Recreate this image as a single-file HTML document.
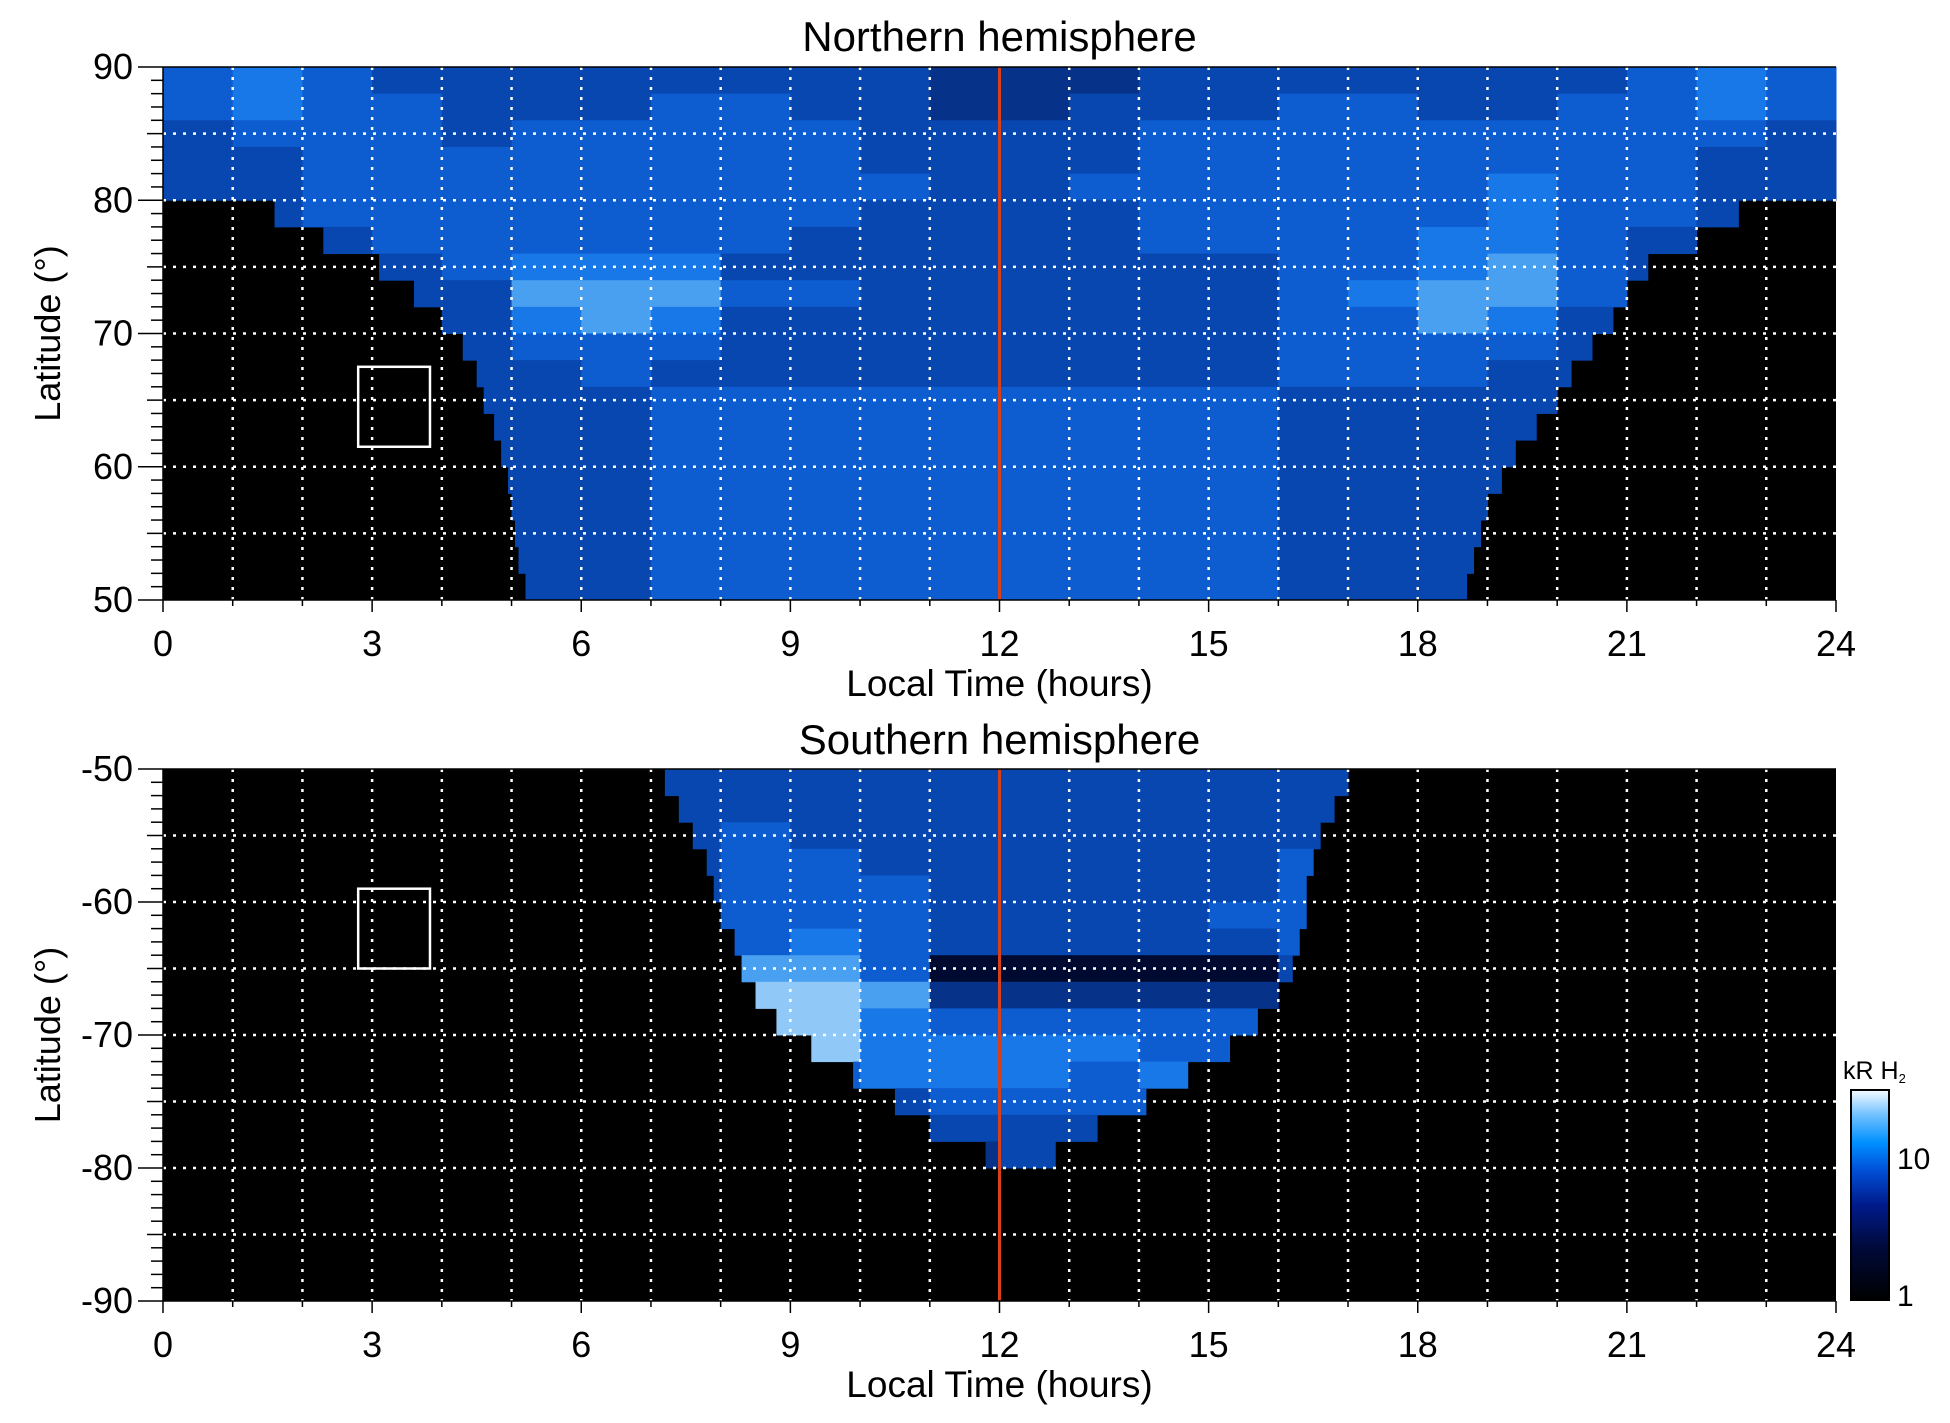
<!DOCTYPE html>
<html><head><meta charset="utf-8"><style>
html,body{margin:0;padding:0;background:#fff;}
svg{display:block;font-family:"Liberation Sans",Arial,sans-serif;}
</style></head><body>
<svg id="chart" width="1950" height="1423" viewBox="0 0 1950 1423" xmlns="http://www.w3.org/2000/svg">
<defs>
<linearGradient id="cbar" x1="0" y1="1" x2="0" y2="0">
<stop offset="0" stop-color="#000000"/><stop offset="0.25" stop-color="#000a3a"/>
<stop offset="0.45" stop-color="#001a8a"/><stop offset="0.62" stop-color="#0050d8"/>
<stop offset="0.75" stop-color="#0090ff"/><stop offset="0.88" stop-color="#70c0ff"/>
<stop offset="1" stop-color="#f4faff"/></linearGradient>
</defs>
<g id="root"></g>
</svg>
<script>
// ---- data ----
const hours = [0,3,6,9,12,15,18,21,24];
const northTicks = [90,80,70,60,50];
const southTicks = [-50,-60,-70,-80,-90];
const palette = ["#000000","#000a30","#001a70","#06328a","#0846b0","#0d5cd0","#1878e8","#4aa0f0","#90c8f8","#e8f4ff"];
// rows of 2 degrees from pole/edge, 24 hourly columns, intensity 0-9
const northRows = [
"565444444443334444444565","565544455443344455445565","455545555544445555555554",
"445555555544445555555544","445555555554455555565544","445555555544445555565544",
"444555555444445555665444","444456664444444455675444","444447775544444456775444",
"444446764444444455764444","444445554444444455554444","444444544444444455544444",
"444444455555555544444444","444444455555555544444444","444444455555555544444444",
"444444455555555544444444","444444455555555544444444","444444455555555544444444",
"444444455555555544444444","444444455555555544444444"];
const northLeft  = [0,0,0,0,0,1.6,2.3,3.1,3.6,4.0,4.3,4.5,4.6,4.75,4.85,4.95,5.0,5.05,5.1,5.2];
const northRight = [24,24,24,24,24,22.6,22,21.3,21,20.8,20.5,20.2,20,19.7,19.4,19.2,19.0,18.9,18.8,18.7];
const southRows = [
"000000044444444444000000","000000044444444444000000","000000045444444444000000",
"000000045544444455000000","000000045554444455000000","000000045554444555000000",
"000000005654444455000000","000000007751111145000000","000000008873333366000000",
"000000008865555566000000","000000006866665566000000","000000000566656550000000",
"000000000045555500000000","000000000034444000000000","000000000003440000000000",
"000000000000000000000000","000000000000000000000000","000000000000000000000000",
"000000000000000000000000","000000000000000000000000"];
const southLeft  = [7.2,7.4,7.6,7.8,7.9,8.0,8.2,8.3,8.5,8.8,9.3,9.9,10.5,11.0,11.8,0,0,0,0,0];
const southRight = [17,16.8,16.6,16.5,16.4,16.4,16.3,16.2,16.0,15.7,15.3,14.7,14.1,13.4,12.8,0,0,0,0,0];
const northBox = [2.8,3.83,67.5,61.5];
const southBox = [2.8,3.83,-59.0,-65.0];
const markerHour = 12;

// ---- drawing ----
const NS="http://www.w3.org/2000/svg";
const root=document.getElementById('root');
function mk(tag,attrs,parent){const e=document.createElementNS(NS,tag);for(const k in attrs)e.setAttribute(k,attrs[k]);(parent||root).appendChild(e);return e;}
const X0=163,X1=1836;
const xs=h=>X0+(X1-X0)*h/24;

function panel(name,top,bot,latTop,latBot,rows,L,R,ticks,box,title,titleY){
  const ys=l=>top+(bot-top)*(latTop-l)/(latTop-latBot);
  const g=mk('g',{});
  
  
  const bg=mk('rect',{x:X0,y:top,width:X1-X0,height:bot-top,fill:'#000'},g);
  
  
  const step=(latTop-latBot)/rows.length;
  rows.forEach((row,ri)=>{
    const la=latTop-ri*step, lb=la-step;
    for(let c=0;c<24;c++){
      const v=+row[c]; if(!v) continue;
      const a=Math.max(c,L[ri]), b=Math.min(c+1,R[ri]); if(b<=a) continue;
      const r=mk('rect',{x:xs(a),y:ys(la),width:xs(b)-xs(a)+0.5,height:ys(lb)-ys(la)+0.5,fill:palette[v]},g);
      
      
    }
  });
  for(let h=1;h<24;h++){
    const l=mk('line',{x1:xs(h),x2:xs(h),y1:top,y2:bot,stroke:'#fff','stroke-width':2.5,'stroke-dasharray':'3 7'},g);
    
    
  }
  for(let la=latTop;la>=latBot;la-=5){
    if(la===latTop||la===latBot) continue;
    const l=mk('line',{x1:X0,x2:X1,y1:ys(la),y2:ys(la),stroke:'#fff','stroke-width':2.5,'stroke-dasharray':'3 7'},g);
    
    
  }
  const bx=mk('rect',{x:xs(box[0]),y:ys(box[2]),width:xs(box[1])-xs(box[0]),height:ys(box[3])-ys(box[2]),fill:'none',stroke:'#fff','stroke-width':2.5},g);
  
  
  const nl=mk('line',{x1:xs(markerHour),x2:xs(markerHour),y1:top,y2:bot,stroke:'#d8401a','stroke-width':3},g);
  
  
  mk('line',{x1:X0,x2:X1,y1:bot,y2:bot,stroke:'#000','stroke-width':1.5},g);
  mk('line',{x1:X0,x2:X0,y1:top,y2:bot,stroke:'#000','stroke-width':1.5},g);
  mk('line',{x1:X0,x2:X1,y1:top,y2:top,stroke:'#000','stroke-width':1.5},g);
  for(let la=latTop;Math.sign(latTop-latBot)*(la-latBot)>=0;la-=1){
    const len=(la%10===0)?25:(la%5===0?16:12);
    mk('line',{x1:X0-len,x2:X0,y1:ys(la),y2:ys(la),stroke:'#000','stroke-width':1.5},g);
  }
  for(let h=0;h<=24;h++){
    mk('line',{x1:xs(h),x2:xs(h),y1:bot,y2:bot+(h%3===0?12:6),stroke:'#000','stroke-width':1.5},g);
  }
  ticks.forEach(t=>{
    const tx=mk('text',{x:X0-30,y:ys(t)+12,'text-anchor':'end','font-size':36},g);
    tx.textContent=t;
    
    
  });
  hours.forEach(h=>{
    const tx=mk('text',{x:xs(h),y:bot+56,'text-anchor':'middle','font-size':36},g);
    tx.textContent=h;
    
    
  });
  const xt=mk('text',{x:(X0+X1)/2,y:bot+96,'text-anchor':'middle','font-size':37},g);
  xt.textContent='Local Time (hours)';
  
  
  const yt=mk('text',{x:0,y:0,'text-anchor':'middle','font-size':36,transform:`translate(60,${(top+bot)/2}) rotate(-90)`},g);
  yt.textContent='Latitude (°)';
  
  
  const tt=mk('text',{x:(X0+X1)/2,y:titleY,'text-anchor':'middle','font-size':42},g);
  tt.textContent=title;
  
  
}
panel('north',67,600,90,50,northRows,northLeft,northRight,northTicks,northBox,'Northern hemisphere',51);
panel('south',769,1301,-50,-90,southRows,southLeft,southRight,southTicks,southBox,'Southern hemisphere',754);

const cb=mk('rect',{x:1851,y:1090,width:38,height:210,fill:'url(#cbar)',stroke:'#000','stroke-width':2});


const cbl=[["10",1169],["1",1306]];
cbl.forEach(([t,y])=>{const e=mk('text',{x:1897,y:y,'font-size':30});e.textContent=t;

});
const ct=mk('text',{x:1843,y:1079,'font-size':25});
ct.innerHTML='kR H<tspan font-size="13" dy="4">2</tspan>';


</script>
</body></html>
